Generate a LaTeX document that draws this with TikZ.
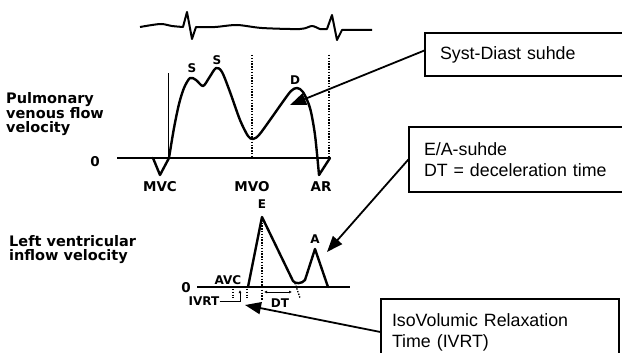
\documentclass[tikz,border=0pt]{standalone}
\usepackage{fontspec}
\setmainfont{Liberation Sans}
\newfontfamily\heavyfont{DejaVu Sans}
\usetikzlibrary{arrows.meta,calc}
\newcommand\titlefont{\heavyfont\bfseries\fontsize{14.5}{14}\selectfont}
\tikzset{
  wave/.style    = {line width=2.4pt, line join=round, line cap=round},
  ecg/.style     = {line width=2pt, line join=round},
  axis/.style    = {line width=1.4pt},
  guide/.style   = {line width=1.3pt, dash pattern=on 1.4pt off 1.4pt},
  lbl/.style     = {font=\heavyfont\bfseries\fontsize{12}{12}\selectfont, inner sep=0pt},
  biglbl/.style  = {font=\heavyfont\bfseries\fontsize{13.5}{13.5}\selectfont, inner sep=0pt},
  axtitle/.style = {font=\titlefont, align=left, inner sep=0pt, anchor=north west},
  note/.style    = {draw, thick, line width=1.2pt, rectangle, align=left,
                    inner ysep=0pt, font=\fontsize{17.8}{21}\selectfont},
  pointer/.style = {-{Triangle[length=16pt,width=12pt]}, line width=1.8pt},
  tick/.style    = {-{Latex[length=3pt,width=3pt]}, line width=1pt},
  dtick/.style   = {{Latex[length=3pt,width=3pt]}-{Latex[length=3pt,width=3pt]}, line width=1pt},
}
\begin{document}
\begin{tikzpicture}[x=1pt, y=-1pt]
\path[use as bounding box] (0,0) rectangle (622,353);
\clip (0,0) rectangle (622,353);
\draw[ecg] plot[smooth] coordinates {(140,27) (152,25) (162,24) (172,26) (183,27)}
  -- (187,12) -- (192,39) -- (196,27)
  -- plot[smooth] coordinates {(196,27) (215,27) (237,25) (262,28) (300,29) (312,26) (320,29) (327,29)}
  -- (332,15) -- (337,40) -- (342,30) -- (372,30);
\draw[axis] (117,158) -- (330,158);
\draw[guide] (252,55) -- (252,158);
\draw[guide] (329,55) -- (329,158);
\draw[line width=1pt] (168,158) -- (168,73);
\draw[wave] (153,158) -- (160,175) -- (169,158)
  -- plot[smooth] coordinates {(169,158) (174,128) (179,104) (184,88) (190,78) (196,80)
     (203,86) (209,78) (216,68) (222,72) (230,92) (240,120) (248,136) (253,139)
     (259,135) (270,120) (282,103) (291,91) (297,88) (303,92) (310,108) (315,135) (319,175)}
  -- (330,158);
\node[biglbl] (zu) at (95,162) {0};
\node[axtitle] (pv) at (6,92) {Pulmonary\\venous flow\\velocity};
\node[lbl] (s1) at (192,68) {S};
\node[lbl] (s2) at (217,60) {S};
\node[lbl] (dd) at (295,80) {D};
\node[biglbl] (mvc) at (160,187) {MVC};
\node[biglbl] (mvo) at (252,187) {MVO};
\node[biglbl] (ar) at (321,187) {AR};
\draw[axis] (197,287) -- (350,287);
\draw[guide] (262,217) -- (262,300);
\draw[guide] (233,289) -- (233,298);
\draw[guide] (247,289) -- (247,298);
\draw[guide] (295,283) -- (300,298);
\draw[wave] (248,287) -- (262,217) -- (293,281) .. controls (295,284) and (302,284) .. (305,280)
  -- (315,249) -- (328,287);
\node[biglbl] (zl) at (186,288) {0};
\node[axtitle] (lv) at (9,235) {Left ventricular\\inflow velocity};
\node[lbl] (ee) at (262,204) {E};
\node[lbl] (aa) at (315,239) {A};
\node[lbl] (avc) at (228,280) {AVC};
\node[lbl] (ivrt) at (204,301) {IVRT};
\node[lbl] (dt) at (280,303) {DT};
\coordinate (ivup) at (240,290);
\draw[tick] (ivrt.east) -| (ivup);
\coordinate (dt0) at (264,292);
\coordinate (dt1) at (292,292);
\draw[dtick] (dt0) -- (dt1);
\node[note, text width=185pt, minimum height=43pt, inner xsep=15pt] (sd) at (532.5,54.5) {Syst-Diast suhde};
\node[note, text width=201pt, minimum height=65pt, inner xsep=15pt] (ea) at (524.5,159.5)
  {E/A-suhde\\DT = deceleration time};
\node[note, text width=216pt, minimum height=66pt, inner xsep=11pt] (iv) at (500,332)
  {IsoVolumic Relaxation\\Time (IVRT)};
\coordinate (dtip) at (290,105);
\coordinate (atip) at (327,252);
\coordinate (itip) at (245,305);
\draw[pointer] ([yshift=4pt]sd.west) -- (dtip);
\draw[pointer] (ea.west) -- (atip);
\draw[pointer] (iv.west) -- (itip);
\end{tikzpicture}
\end{document}
